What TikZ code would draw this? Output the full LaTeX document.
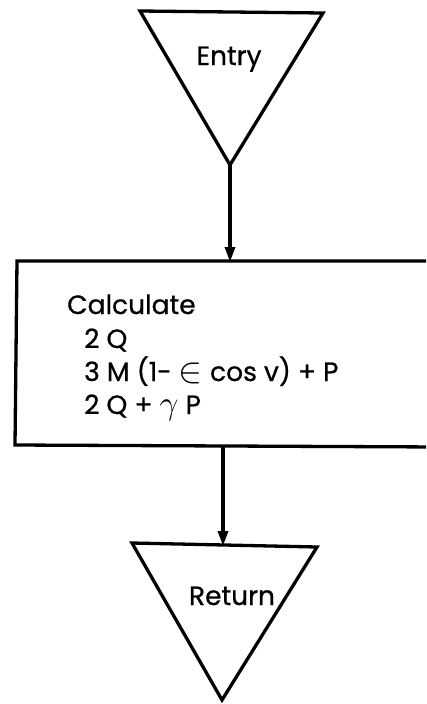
\documentclass[tikz,border=0pt]{standalone}
\usepackage{fontspec}
\usepackage{graphicx}
\setmainfont{Poppins}
\newfontfamily\lblfont{Poppins}[FakeBold=0.7]
\usetikzlibrary{arrows.meta}
\tikzset{
  outline/.style={line width=3.3pt, line join=miter, line cap=round},
  flow/.style={line width=3.3pt, -{Triangle[length=15pt,width=10pt]}, shorten >=-1pt},
  lbl/.style={inner sep=0pt, font=\lblfont\fontsize{26.5}{33}\selectfont},
}
\newcommand{\bigin}{\raisebox{-1pt}{\scalebox{1.45}{$\in$}}}
\newcommand{\biggam}{\scalebox{1.35}{$\gamma$}}
\begin{document}
\begin{tikzpicture}[x=1pt,y=-1pt]
\useasboundingbox (0,0) rectangle (426,704);
% Entry triangle
\coordinate (e1) at (140,11);
\coordinate (e2) at (323,13);
\coordinate (eapex) at (230,165);
\draw[outline] (e1) -- (e2) -- (eapex) -- cycle;
\node[lbl, anchor=base] (entry) at (229,65) {Entry};
% Calculation box (right side runs off the picture)
\coordinate (btl) at (17,261);
\coordinate (btr) at (440,261);
\coordinate (bbl) at (15,445);
\coordinate (bbr) at (440,447);
\coordinate (btop) at (230,261);
\coordinate (bbot) at (223,446);
\begin{scope}
\clip (0,0) rectangle (426,704);
\draw[outline] (btr) -- (btl) -- (bbl) -- (bbr);
\end{scope}
\node[lbl, anchor=base west] (calc) at (67,314) {Calculate};
\node[lbl, anchor=base west] (l1) at (84,348) {2 Q};
\node[lbl, anchor=base west] (l2) at (84,381) {3 M (1- \bigin\ cos v) + P};
\node[lbl, anchor=base west] (l3) at (84,414) {2 Q + \biggam\ P};
% Return triangle
\coordinate (r1) at (132,543);
\coordinate (r2) at (317,547);
\coordinate (rapex) at (222,700);
\draw[outline] (r1) -- (r2) -- (rapex) -- cycle;
\node[lbl, anchor=base] (ret) at (232,605) {Return};
\coordinate (rtop) at (223,545);
% connectors
\draw[flow] (eapex) -- (btop);
\draw[flow] (bbot) -- (rtop);
\end{tikzpicture}
\end{document}
